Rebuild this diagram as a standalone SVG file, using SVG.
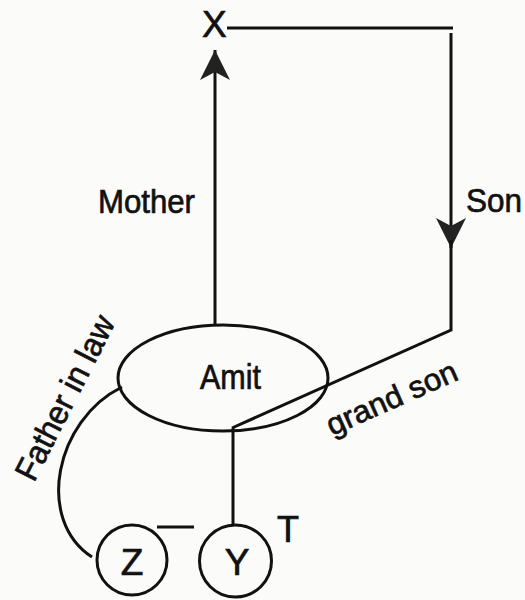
<svg xmlns="http://www.w3.org/2000/svg" width="525" height="600" viewBox="0 0 525 600">
<style>
.ln{fill:none;stroke:#111;stroke-width:3;stroke-linejoin:miter}
.nd{fill:none;stroke:#111;stroke-width:3}
.t{font-family:"Liberation Sans",Arial,sans-serif;fill:#111;stroke:#111;stroke-width:0.7}
</style>
<defs>
<marker id="ah" viewBox="0 0 32 32" refX="30" refY="15" markerWidth="32" markerHeight="32" markerUnits="userSpaceOnUse" orient="auto">
<path d="M0 0 L30 15 L0 30 L8 15 Z" fill="#222"/>
</marker>
</defs>
<rect width="525" height="600" fill="#fbfbfa"/>
<g id="connectors">
<path class="ln" d="M215 325 L215 50" marker-end="url(#ah)"/>
<path class="ln" d="M227 28 L453 28"/>
<path class="ln" d="M451 33 L451 248" marker-end="url(#ah)"/>
<path class="ln" d="M451 240 L451 330 L232 428"/>
<path class="ln" d="M233 428 L233 524"/>
<path class="ln" d="M122 387 C55 420 35 520 92 557"/>
<path class="ln" d="M157 527 L194 527"/>
<text class="t" x="98" y="213" font-size="34" textLength="97" lengthAdjust="spacingAndGlyphs">Mother</text>
<text class="t" x="466" y="212" font-size="34" textLength="56" lengthAdjust="spacingAndGlyphs">Son</text>
<text class="t" font-size="33" transform="translate(34 483) rotate(-63)" textLength="180" lengthAdjust="spacingAndGlyphs">Father in law</text>
<text class="t" font-size="31" transform="translate(332 436) rotate(-24)" textLength="140" lengthAdjust="spacingAndGlyphs">grand son</text>
<text class="t" x="277" y="542" font-size="36">T</text>
</g>
<g id="node-X">
<text class="t" x="202" y="37" font-size="37">X</text>
</g>
<g id="node-Amit">
<ellipse class="nd" cx="223" cy="378" rx="105" ry="53"/>
<text class="t" x="200" y="389" font-size="35" textLength="61" lengthAdjust="spacingAndGlyphs">Amit</text>
</g>
<g id="node-Z">
<circle class="nd" cx="132" cy="560" r="35"/>
<text class="t" x="132" y="575" font-size="37" text-anchor="middle">Z</text>
</g>
<g id="node-Y">
<circle class="nd" cx="235.5" cy="561" r="36"/>
<text class="t" x="237" y="575" font-size="37" text-anchor="middle">Y</text>
</g>
</svg>
